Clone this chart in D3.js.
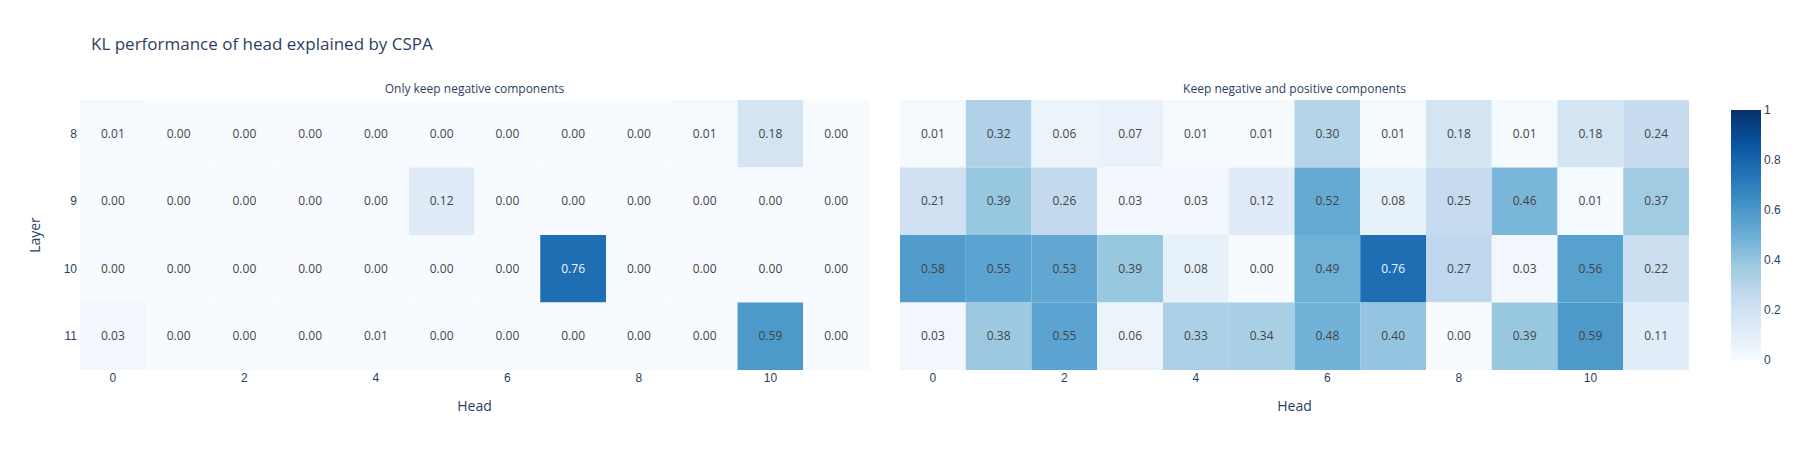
<!DOCTYPE html>
<html>
<head>
<meta charset="utf-8">
<script src="https://cdn.jsdelivr.net/npm/d3@7"></script>
<style>
  html, body { margin: 0; padding: 0; background: #fff; }
  svg { display: block; font-family: "Open Sans", "Noto Sans", sans-serif; }
</style>
</head>
<body>
<svg id="chart" width="1800" height="450"></svg>
<script>
// ---- Data ----
const heads = [0, 1, 2, 3, 4, 5, 6, 7, 8, 9, 10, 11];
const layers = [8, 9, 10, 11];
const headTicks = [0, 2, 4, 6, 8, 10];
const colorbarTicks = [0, 0.2, 0.4, 0.6, 0.8, 1];
const panelTitles = ["Only keep negative components", "Keep negative and positive components"];

const negOnly = [
  [0.01, 0.00, 0.00, 0.00, 0.00, 0.00, 0.00, 0.00, 0.00, 0.01, 0.18, 0.00],
  [0.00, 0.00, 0.00, 0.00, 0.00, 0.12, 0.00, 0.00, 0.00, 0.00, 0.00, 0.00],
  [0.00, 0.00, 0.00, 0.00, 0.00, 0.00, 0.00, 0.76, 0.00, 0.00, 0.00, 0.00],
  [0.03, 0.00, 0.00, 0.00, 0.01, 0.00, 0.00, 0.00, 0.00, 0.00, 0.59, 0.00]
];
const negPos = [
  [0.01, 0.32, 0.06, 0.07, 0.01, 0.01, 0.30, 0.01, 0.18, 0.01, 0.18, 0.24],
  [0.21, 0.39, 0.26, 0.03, 0.03, 0.12, 0.52, 0.08, 0.25, 0.46, 0.01, 0.37],
  [0.58, 0.55, 0.53, 0.39, 0.08, 0.00, 0.49, 0.76, 0.27, 0.03, 0.56, 0.22],
  [0.03, 0.38, 0.55, 0.06, 0.33, 0.34, 0.48, 0.40, 0.00, 0.39, 0.59, 0.11]
];
const panels = [negOnly, negPos];

// Plotly "Blues" colorscale
const bluesStops = ["rgb(247,251,255)", "rgb(222,235,247)", "rgb(198,219,239)", "rgb(158,202,225)",
  "rgb(107,174,214)", "rgb(66,146,198)", "rgb(33,113,181)", "rgb(8,81,156)", "rgb(8,48,107)"];

// ---- Layout ----
const svg = d3.select("#chart");
const plotTop = 100, plotBottom = 370;
const panelX = [[80, 869], [900, 1689]];
const fontColor = "#2a3f5f";

const color = d3.scaleLinear()
  .domain(bluesStops.map((_, i) => i / (bluesStops.length - 1)))
  .range(bluesStops)
  .interpolate(d3.interpolateRgb)
  .clamp(true);

const yScale = d3.scaleBand().domain(layers).range([plotTop, plotBottom]).padding(0);

// Title
svg.append("text")
  .attr("x", 91).attr("y", 50)
  .attr("font-size", 17).attr("fill", fontColor)
  .text("KL performance of head explained by CSPA");

panels.forEach((data, p) => {
  const x = d3.scaleBand().domain(heads).range(panelX[p]).padding(0);
  const g = svg.append("g");

  const cells = [];
  data.forEach((row, i) => row.forEach((v, j) => cells.push({ layer: layers[i], head: heads[j], v })));

  g.selectAll("rect.cell").data(cells).join("rect")
    .attr("class", "cell")
    .attr("x", d => x(d.head)).attr("y", d => yScale(d.layer))
    .attr("width", x.bandwidth()).attr("height", yScale.bandwidth())
    .attr("fill", d => color(d.v));

  g.selectAll("text.val").data(cells).join("text")
    .attr("class", "val")
    .attr("x", d => x(d.head) + x.bandwidth() / 2)
    .attr("y", d => yScale(d.layer) + yScale.bandwidth() / 2)
    .attr("dy", "0.35em")
    .attr("text-anchor", "middle")
    .attr("font-size", 12)
    .attr("fill", d => d.v > 0.65 ? "#f2f5fa" : "#444")
    .text(d => d.v.toFixed(2));

  // x axis
  const xAxis = g.append("g")
    .attr("transform", `translate(0,${plotBottom})`)
    .call(d3.axisBottom(x).tickValues(headTicks).tickSize(0).tickPadding(3));
  xAxis.select(".domain").remove();
  xAxis.selectAll("text").attr("font-size", 12).attr("fill", fontColor).attr("font-family", null);

  // x title
  svg.append("text")
    .attr("x", (panelX[p][0] + panelX[p][1]) / 2).attr("y", 411)
    .attr("text-anchor", "middle").attr("font-size", 14).attr("fill", fontColor)
    .text("Head");

  // subplot title
  svg.append("text")
    .attr("x", (panelX[p][0] + panelX[p][1]) / 2).attr("y", 93)
    .attr("text-anchor", "middle").attr("font-size", 12).attr("fill", fontColor)
    .text(panelTitles[p]);

  if (p === 0) {
    const yAxis = g.append("g")
      .attr("transform", `translate(${panelX[0][0]},0)`)
      .call(d3.axisLeft(yScale).tickSize(0).tickPadding(3));
    yAxis.select(".domain").remove();
    yAxis.selectAll("text").attr("font-size", 12).attr("fill", fontColor).attr("font-family", null);
  }
});

// y title
svg.append("text")
  .attr("transform", `translate(40,235) rotate(-90)`)
  .attr("text-anchor", "middle").attr("font-size", 14).attr("fill", fontColor)
  .text("Layer");

// Colorbar
const cbX = 1731, cbW = 30, cbTop = 110, cbBottom = 360;
const defs = svg.append("defs");
const grad = defs.append("linearGradient").attr("id", "cbgrad")
  .attr("x1", 0).attr("y1", 1).attr("x2", 0).attr("y2", 0);
bluesStops.forEach((c, i) => {
  grad.append("stop").attr("offset", i / (bluesStops.length - 1)).attr("stop-color", c);
});
svg.append("rect")
  .attr("x", cbX).attr("y", cbTop).attr("width", cbW).attr("height", cbBottom - cbTop)
  .attr("fill", "url(#cbgrad)");
const cbScale = d3.scaleLinear().domain([0, 1]).range([cbBottom, cbTop]);
const cbAxis = svg.append("g")
  .attr("transform", `translate(${cbX + cbW},0)`)
  .call(d3.axisRight(cbScale).tickValues(colorbarTicks).tickFormat(d3.format("~g")).tickSize(0).tickPadding(3));
cbAxis.select(".domain").remove();
cbAxis.selectAll("text").attr("font-size", 12).attr("fill", fontColor).attr("font-family", null);
</script>
</body>
</html>
